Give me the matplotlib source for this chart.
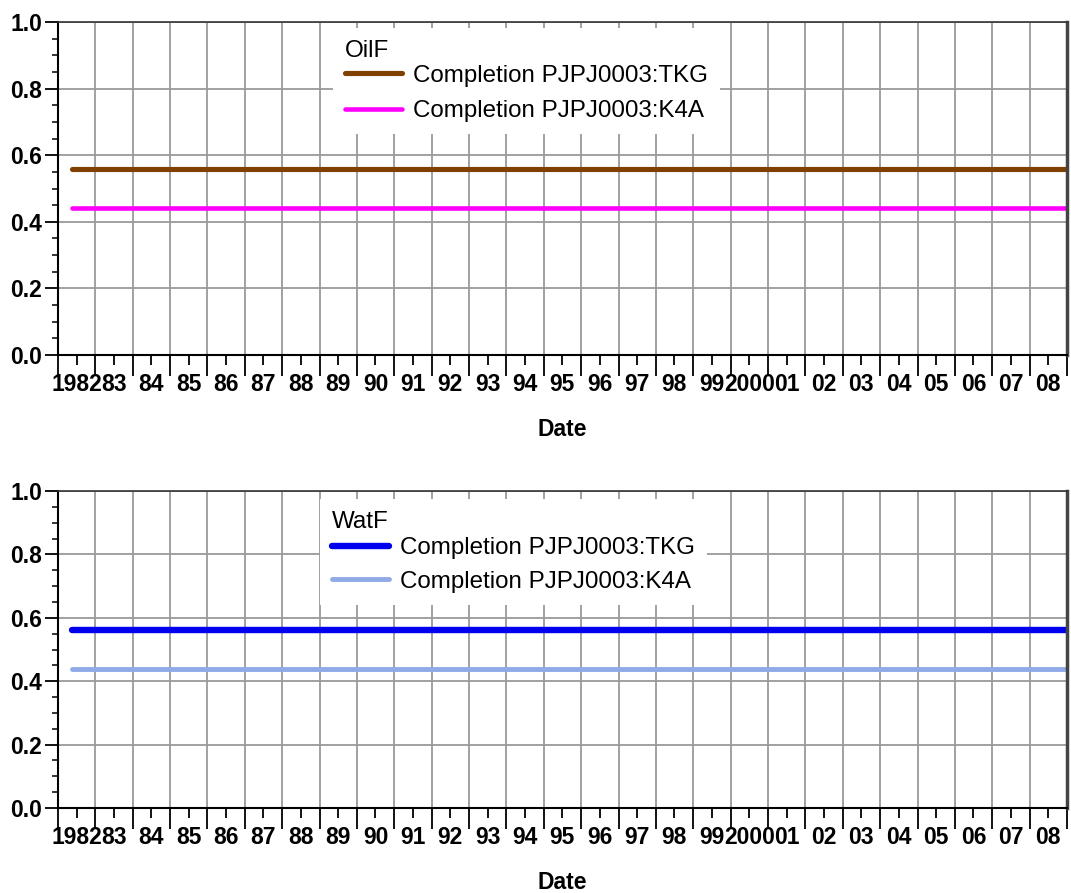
import matplotlib
matplotlib.use("Agg")
import matplotlib.pyplot as plt
import matplotlib.dates as mdates
from matplotlib.ticker import MultipleLocator, NullFormatter, FuncFormatter
import numpy as np
from datetime import datetime

plt.rcParams['font.family'] = ['Liberation Sans', 'DejaVu Sans']

# ---- data ----
dates = [datetime(1982, 5, 15), datetime(2009, 1, 1)]
oil_tkg = [0.56, 0.56]
oil_k4a = [0.44, 0.44]
wat_tkg = [0.56, 0.56]
wat_k4a = [0.44, 0.44]
oil_labels = ["Completion PJPJ0003:TKG", "Completion PJPJ0003:K4A"]
wat_labels = ["Completion PJPJ0003:TKG", "Completion PJPJ0003:K4A"]
oil_title = "OilF"
wat_title = "WatF"
x_label = "Date"
xmin, xmax = datetime(1982, 1, 1), datetime(2009, 1, 1)

W, H = 1071, 893
fig = plt.figure(figsize=(W / 100, H / 100), dpi=100)

def px_axes(left, top, right, bottom):
    return fig.add_axes([left / W, 1 - bottom / H, (right - left) / W, (bottom - top) / H])

ax1 = px_axes(58, 22, 1067, 355)
ax2 = px_axes(58, 491, 1067, 808)

def year_fmt(x, pos):
    d = mdates.num2date(x)
    y = d.year
    if y in (1982, 2000):
        return str(y)
    return "%02d" % (y % 100)

def style(ax):
    ax.set_xlim(xmin, xmax)
    ax.set_ylim(0, 1)
    ax.xaxis.set_major_locator(mdates.YearLocator(1))
    ax.xaxis.set_minor_locator(mdates.MonthLocator(bymonth=7, bymonthday=1))
    ax.xaxis.set_major_formatter(NullFormatter())
    ax.xaxis.set_minor_formatter(FuncFormatter(year_fmt))
    ax.yaxis.set_major_locator(MultipleLocator(0.2))
    ax.yaxis.set_minor_locator(MultipleLocator(0.05))
    ax.yaxis.set_major_formatter(FuncFormatter(lambda v, p: "%.1f" % v))
    ax.tick_params(axis='x', which='major', direction='out', length=15, width=1.3, color='black', top=False)
    ax.tick_params(axis='x', which='minor', direction='out', length=7.2, width=1.3, color='black',
                   labelsize=16.5, pad=6, top=False)
    ax.tick_params(axis='y', which='major', direction='out', length=9.4, width=1.3, color='black',
                   labelsize=16.5, pad=2)
    ax.tick_params(axis='y', which='minor', direction='out', length=4.3, width=1.1, color='black')
    for lab in ax.get_xticklabels(minor=True) + ax.get_yticklabels():
        lab.set_fontweight('bold')
    ax.grid(True, which='major', color='#9a9a9a', linewidth=1.3)
    ax.set_axisbelow(True)
    ax.spines['left'].set_linewidth(1.5)
    ax.spines['bottom'].set_linewidth(1.5)
    ax.spines['top'].set_color('#333333')
    ax.spines['top'].set_linewidth(1.2)
    ax.spines['right'].set_color('#444444')
    ax.spines['right'].set_linewidth(2.5)
    ax.set_xlabel(x_label, fontsize=16.5, fontweight='bold', labelpad=15.5)

style(ax1)
style(ax2)

l1, = ax1.plot(dates, oil_tkg, color='#804000', lw=3.7, solid_capstyle='round')
l2, = ax1.plot(dates, oil_k4a, color='#ff00ff', lw=3.3, solid_capstyle='round')
l3, = ax2.plot(dates, wat_tkg, color='#0000ee', lw=4.6, solid_capstyle='round')
l4, = ax2.plot(dates, wat_k4a, color='#90aae8', lw=3.5, solid_capstyle='round')

def make_legend(ax, handles, labels, title, anchor, rowsep, titlesep):
    leg = ax.legend(handles, labels, title=title, loc='upper left', bbox_to_anchor=anchor,
                    borderaxespad=0, fontsize=17.4, title_fontsize=17.4, frameon=True,
                    fancybox=False, framealpha=1, facecolor='white', edgecolor='white',
                    handlelength=2.35, handletextpad=0.45, labelspacing=rowsep, borderpad=0.5)
    leg._legend_box.align = "left"
    leg._legend_box.sep = titlesep
    leg.get_frame().set_linewidth(0)
    leg.set_zorder(5)
    return leg

make_legend(ax1, [l1, l2], oil_labels, oil_title, ((333 - 58) / 1009, (355 - 28) / 333), 0.55, 2)
make_legend(ax2, [l3, l4], wat_labels, wat_title, ((320 - 58) / 1009, (808 - 499) / 317), 0.48, 3)

fig.savefig("out.png", dpi=100)
